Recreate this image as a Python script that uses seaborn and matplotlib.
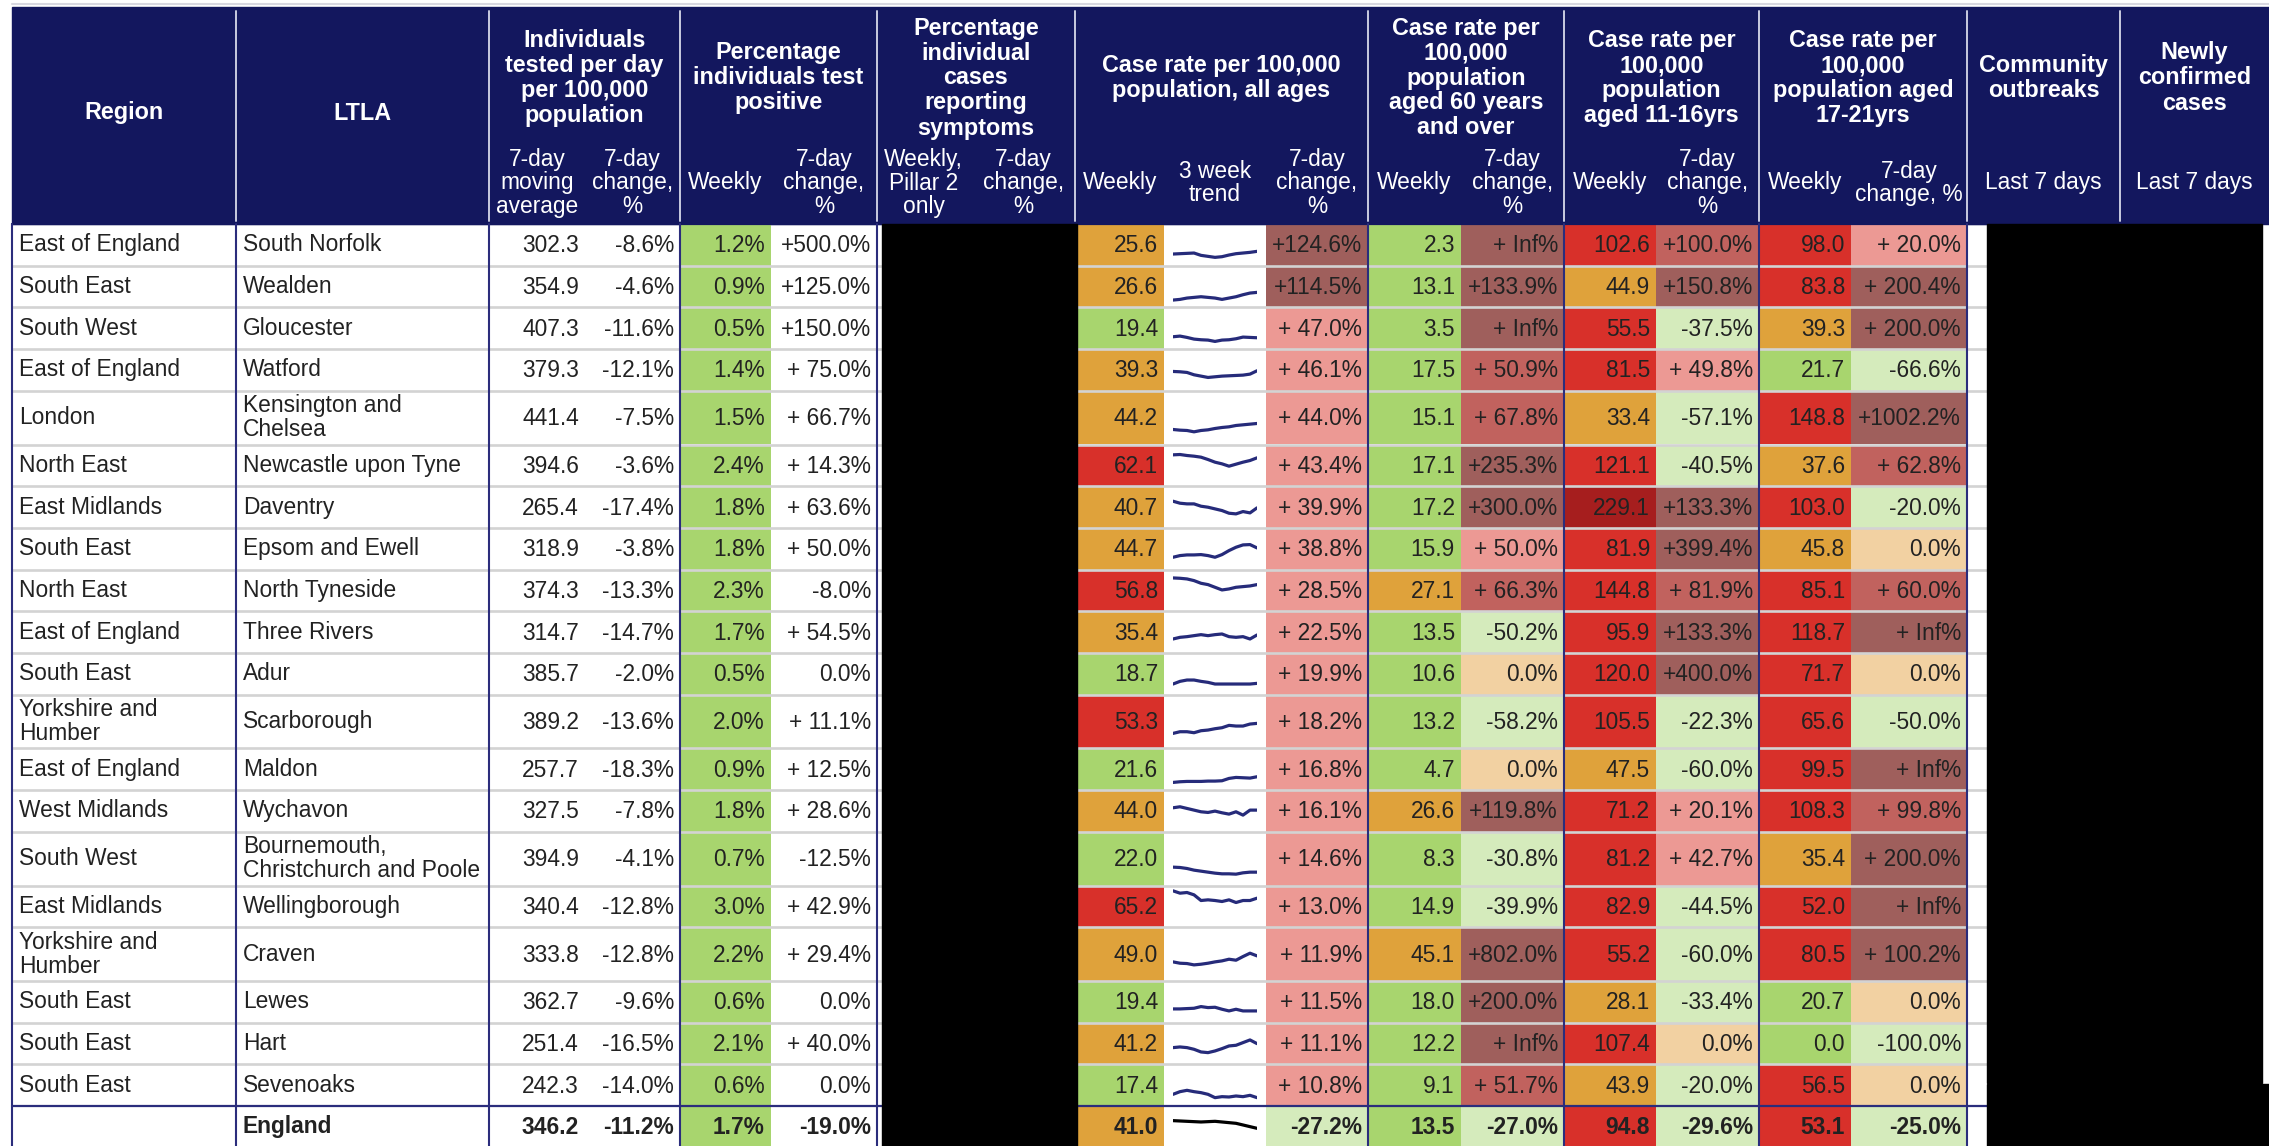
import numpy as np
import matplotlib
matplotlib.use("Agg")
import matplotlib.pyplot as plt
from matplotlib.patches import Rectangle
import seaborn as sns

INF = float("inf")

regions = ["East of England", "South East", "South West", "East of England", "London",
           "North East", "East Midlands", "South East", "North East", "East of England",
           "South East", "Yorkshire and\nHumber", "East of England", "West Midlands",
           "South West", "East Midlands", "Yorkshire and\nHumber", "South East",
           "South East", "South East", ""]
ltlas = ["South Norfolk", "Wealden", "Gloucester", "Watford", "Kensington and\nChelsea",
         "Newcastle upon Tyne", "Daventry", "Epsom and Ewell", "North Tyneside",
         "Three Rivers", "Adur", "Scarborough", "Maldon", "Wychavon",
         "Bournemouth,\nChristchurch and Poole", "Wellingborough", "Craven", "Lewes",
         "Hart", "Sevenoaks", "England"]

tested_avg = [302.3, 354.9, 407.3, 379.3, 441.4, 394.6, 265.4, 318.9, 374.3, 314.7, 385.7,
              389.2, 257.7, 327.5, 394.9, 340.4, 333.8, 362.7, 251.4, 242.3, 346.2]
tested_chg = [-8.6, -4.6, -11.6, -12.1, -7.5, -3.6, -17.4, -3.8, -13.3, -14.7, -2.0,
              -13.6, -18.3, -7.8, -4.1, -12.8, -12.8, -9.6, -16.5, -14.0, -11.2]
pos_weekly = [1.2, 0.9, 0.5, 1.4, 1.5, 2.4, 1.8, 1.8, 2.3, 1.7, 0.5,
              2.0, 0.9, 1.8, 0.7, 3.0, 2.2, 0.6, 2.1, 0.6, 1.7]
pos_chg = [500.0, 125.0, 150.0, 75.0, 66.7, 14.3, 63.6, 50.0, -8.0, 54.5, 0.0,
           11.1, 12.5, 28.6, -12.5, 42.9, 29.4, 0.0, 40.0, 0.0, -19.0]
rate_all = [25.6, 26.6, 19.4, 39.3, 44.2, 62.1, 40.7, 44.7, 56.8, 35.4, 18.7,
            53.3, 21.6, 44.0, 22.0, 65.2, 49.0, 19.4, 41.2, 17.4, 41.0]
rate_all_chg = [124.6, 114.5, 47.0, 46.1, 44.0, 43.4, 39.9, 38.8, 28.5, 22.5, 19.9,
                18.2, 16.8, 16.1, 14.6, 13.0, 11.9, 11.5, 11.1, 10.8, -27.2]
rate_60 = [2.3, 13.1, 3.5, 17.5, 15.1, 17.1, 17.2, 15.9, 27.1, 13.5, 10.6,
           13.2, 4.7, 26.6, 8.3, 14.9, 45.1, 18.0, 12.2, 9.1, 13.5]
rate_60_chg = [INF, 133.9, INF, 50.9, 67.8, 235.3, 300.0, 50.0, 66.3, -50.2, 0.0,
               -58.2, 0.0, 119.8, -30.8, -39.9, 802.0, 200.0, INF, 51.7, -27.0]
rate_1116 = [102.6, 44.9, 55.5, 81.5, 33.4, 121.1, 229.1, 81.9, 144.8, 95.9, 120.0,
             105.5, 47.5, 71.2, 81.2, 82.9, 55.2, 28.1, 107.4, 43.9, 94.8]
rate_1116_chg = [100.0, 150.8, -37.5, 49.8, -57.1, -40.5, 133.3, 399.4, 81.9, 133.3, 400.0,
                 -22.3, -60.0, 20.1, 42.7, -44.5, -60.0, -33.4, 0.0, -20.0, -29.6]
rate_1721 = [98.0, 83.8, 39.3, 21.7, 148.8, 37.6, 103.0, 45.8, 85.1, 118.7, 71.7,
             65.6, 99.5, 108.3, 35.4, 52.0, 80.5, 20.7, 0.0, 56.5, 53.1]
rate_1721_chg = [20.0, 200.4, 200.0, -66.6, 1002.2, 62.8, -20.0, 0.0, 60.0, INF, 0.0,
                 -50.0, INF, 99.8, 200.0, INF, 100.2, 0.0, -100.0, 0.0, -25.0]

# 3 week trend, level (13 samples per row)
trend_values = [
    [35, 36, 37, 38, 31, 28, 25, 27, 32, 36, 38, 40, 43],
    [22, 24, 28, 30, 32, 30, 28, 24, 28, 32, 38, 43, 45],
    [37, 39, 35, 30, 28, 27, 23, 27, 28, 31, 36, 35, 34],
    [58, 57, 55, 48, 44, 40, 42, 44, 45, 46, 47, 50, 60],
    [45, 43, 42, 38, 42, 44, 48, 51, 53, 57, 59, 61, 63],
    [94, 95, 92, 90, 87, 80, 72, 67, 60, 66, 72, 77, 85],
    [80, 74, 72, 72, 65, 62, 57, 52, 44, 42, 49, 45, 60],
    [37, 42, 44, 44, 45, 42, 37, 45, 57, 67, 74, 75, 65],
    [100, 99, 97, 92, 84, 80, 72, 64, 67, 72, 74, 76, 80],
    [42, 47, 49, 52, 55, 52, 55, 57, 49, 47, 49, 42, 54],
    [32, 40, 44, 44, 40, 37, 32, 32, 32, 32, 32, 32, 34],
    [45, 50, 50, 47, 53, 55, 59, 62, 69, 67, 67, 73, 75],
    [23, 25, 26, 26, 26, 27, 27, 28, 35, 38, 37, 36, 40],
    [72, 75, 70, 65, 60, 58, 62, 57, 53, 60, 50, 65, 65],
    [55, 54, 51, 46, 43, 40, 37, 35, 35, 34, 38, 40, 40],
    [109, 102, 104, 97, 80, 82, 80, 77, 82, 74, 80, 80, 87],
    [57, 53, 52, 48, 50, 53, 57, 60, 65, 62, 73, 83, 75],
    [41, 41, 42, 43, 48, 45, 46, 40, 35, 40, 35, 35, 35],
    [50, 52, 50, 45, 37, 35, 40, 47, 55, 57, 65, 73, 62],
    [35, 43, 47, 43, 40, 35, 25, 28, 27, 30, 28, 32, 25],
    [76, 75, 74, 73, 72, 73, 74, 72, 70, 68, 63, 58, 53],
]

group_titles = ["Individuals\ntested per day\nper 100,000\npopulation",
                "Percentage\nindividuals test\npositive",
                "Percentage\nindividual\ncases\nreporting\nsymptoms",
                "Case rate per 100,000\npopulation, all ages",
                "Case rate per\n100,000\npopulation\naged 60 years\nand over",
                "Case rate per\n100,000\npopulation\naged 11-16yrs",
                "Case rate per\n100,000\npopulation aged\n17-21yrs",
                "Community\noutbreaks",
                "Newly\nconfirmed\ncases"]
sub_titles = ["7-day\nmoving\naverage", "7-day\nchange,\n%", "Weekly", "7-day\nchange,\n%",
              "Weekly,\nPillar 2\nonly", "7-day\nchange,\n%", "Weekly", "3 week\ntrend",
              "7-day\nchange,\n%", "Weekly", "7-day\nchange,\n%", "Weekly", "7-day\nchange,\n%",
              "Weekly", "7-day\nchange, %", "Last 7 days", "Last 7 days"]

# ---- styling / layout ----
NAVY = "#13175E"
LINE_NAVY = "#2B2D7C"
TXT = "#222222"
GREEN, ORANGE, RED, DARKRED = "#A8D56E", "#DFA23B", "#D8302A", "#A61E1E"
BROWN, MEDIUM, PINK, LGREEN, PEACH = "#9F5F5C", "#C1625E", "#EC9994", "#D5EBBC", "#F2D1A2"
FS = 16.4
FS_HEAD = 16.8

sns.set_theme(style="white")
plt.rcParams['font.family'] = ['Liberation Sans', 'DejaVu Sans']


def rate_colour(v):
    if v < 25:
        return GREEN
    if v < 50:
        return ORANGE
    if v < 200:
        return RED
    return DARKRED


def change_colour(v):
    if v < 0:
        return LGREEN
    if v == 0:
        return PEACH
    if v <= 50:
        return PINK
    if v <= 100:
        return MEDIUM
    return BROWN


def fmt_change(v, wide=False):
    if np.isinf(v):
        return "+ Inf%"
    if v > 0:
        limit = 1000 if wide else 100
        return "+" + ("" if v >= limit else " ") + f"{v:.1f}%"
    return f"{v:.1f}%"


W, H = 2269, 1146
fig = plt.figure(figsize=(W / 100, H / 100), dpi=100)
ax = fig.add_axes([0, 0, 1, 1])
ax.set_xlim(0, W)
ax.set_ylim(H, 0)
ax.axis("off")

# column edges (pixels)
edges = [12, 236, 489, 585, 680, 771, 877, 970, 1077, 1164, 1266, 1368, 1461,
         1564, 1656, 1759, 1851, 1967, 2120, 2269]
group_edges = [489, 680, 877, 1075, 1368, 1564, 1759, 1967, 2120, 2269]
HEAD_TOP, HEAD_BOT = 7, 224


def multiline(x, yc, s, step, **kw):
    lines = s.split("\n")
    n = len(lines)
    for k, line in enumerate(lines):
        ax.text(x, yc + (k - (n - 1) / 2) * step, line, va="center", **kw)


# header
ax.plot([12, W], [4, 4], color="#D8D8E0", lw=1.5)
ax.add_patch(Rectangle((12, HEAD_TOP), W - 12, HEAD_BOT - HEAD_TOP, color=NAVY, zorder=1))
for gx in [236] + group_edges[:-1]:
    ax.plot([gx, gx], [HEAD_TOP + 4, HEAD_BOT - 3], color="#C9CBE0", lw=1.4, zorder=2)
ax.text(124, 113, "Region", ha="center", va="center", fontsize=FS_HEAD, fontweight="bold", color="white")
ax.text(362, 113, "LTLA", ha="center", va="center", fontsize=FS_HEAD, fontweight="bold", color="white")
for i, t in enumerate(group_titles):
    cx = (group_edges[i] + group_edges[i + 1]) / 2
    multiline(cx, 78, t, 25, ha="center", fontsize=FS_HEAD, fontweight="bold", color="white")
for j, t in enumerate(sub_titles):
    cx = (edges[j + 2] + edges[j + 3]) / 2
    multiline(cx, 183, t, 23.5, ha="center", fontsize=FS, color="white")

# body rows
row_h = []
for i in range(len(ltlas)):
    if i == len(ltlas) - 1:
        row_h.append(40)
    elif "\n" in regions[i] or "\n" in ltlas[i]:
        row_h.append(53.7)
    else:
        row_h.append(41.7)
row_top = list(HEAD_BOT + np.concatenate([[0], np.cumsum(row_h)[:-1]]))

numeric_cols = [
    (3, tested_avg, lambda v: f"{v:.1f}", None),
    (4, tested_chg, lambda v: f"{v:.1f}%", None),
    (5, pos_weekly, lambda v: f"{v:.1f}%", lambda v: GREEN),
    (6, pos_chg, fmt_change, None),
    (9, rate_all, lambda v: f"{v:.1f}", rate_colour),
    (11, rate_all_chg, fmt_change, change_colour),
    (12, rate_60, lambda v: f"{v:.1f}", rate_colour),
    (13, rate_60_chg, fmt_change, change_colour),
    (14, rate_1116, lambda v: f"{v:.1f}", rate_colour),
    (15, rate_1116_chg, fmt_change, change_colour),
    (16, rate_1721, lambda v: f"{v:.1f}", rate_colour),
    (17, rate_1721_chg, lambda v: fmt_change(v, wide=True), change_colour),
]

for i in range(len(ltlas)):
    top, h = row_top[i], row_h[i]
    yc = top + h / 2
    bold = "bold" if i == len(ltlas) - 1 else "normal"
    multiline(19, yc, regions[i], 24, ha="left", fontsize=FS, color=TXT, fontweight=bold)
    multiline(243, yc, ltlas[i], 24, ha="left", fontsize=FS, color=TXT, fontweight=bold)
    for c, vals, fmt, cfun in numeric_cols:
        x0, x1 = edges[c - 1], edges[c]
        if cfun is not None:
            ax.add_patch(Rectangle((x0, top), x1 - x0, h, color=cfun(vals[i]), lw=0, zorder=1))
        ax.text(x1 - 6, yc + 1, fmt(vals[i]), ha="right", va="center", fontsize=FS,
                color=TXT, fontweight=bold, zorder=3)

    # sparkline
    sx0, sx1 = 1173, 1257
    iax = fig.add_axes([sx0 / W, 1 - (top + h) / H, (sx1 - sx0) / W, 41.7 / H])
    sns.lineplot(x=np.arange(len(trend_values[i])), y=trend_values[i], ax=iax,
                 color="black" if i == len(ltlas) - 1 else "#262B7A", linewidth=2.3)
    iax.set_xlim(0, len(trend_values[i]) - 1)
    iax.set_ylim(0, 125)
    iax.set_facecolor("none")
    iax.axis("off")

body_bottom = H
# row separators
for y in row_top[1:-1]:
    ax.plot([12, 1987], [y, y], color="#D3D3D3", lw=1.9, zorder=2)
ax.plot([12, 1987], [row_top[-1], row_top[-1]], color=LINE_NAVY, lw=1.6, zorder=4)
ax.plot([12, 1987], [HEAD_BOT, HEAD_BOT], color=NAVY, lw=1.6, zorder=4)
# vertical navy lines in the body
for vx in [12, 236, 489, 680, 877, 1368, 1564, 1759, 1967]:
    ax.plot([vx, vx], [HEAD_BOT, body_bottom], color=LINE_NAVY, lw=1.5, zorder=4)

# redacted blocks
ax.add_patch(Rectangle((882, HEAD_BOT), 1077 - 882, H - HEAD_BOT, color="black", zorder=5))
ax.add_patch(Rectangle((1987, HEAD_BOT), 2262 - 1987, 1083 - HEAD_BOT, color="black", zorder=5))
ax.add_patch(Rectangle((1987, 1084), W - 1987, H - 1084, color="black", zorder=5))

fig.savefig("out.png", dpi=100)
